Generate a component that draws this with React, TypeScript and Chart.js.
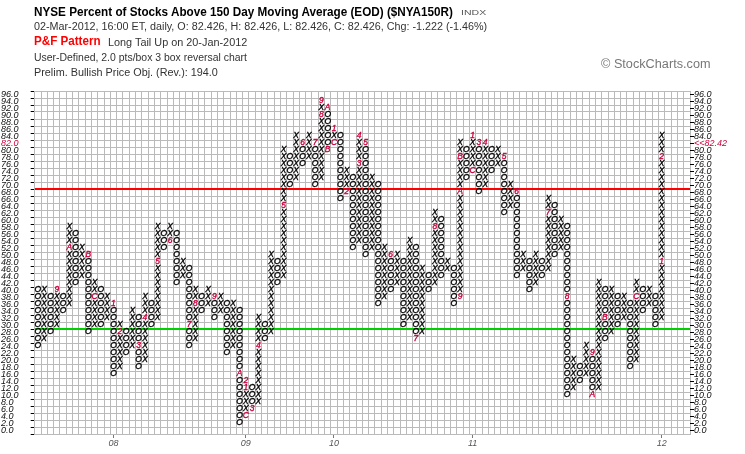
import { useEffect, useLayoutEffect, useRef, type CSSProperties, type ReactNode } from 'react'
import { Chart, registerables, type Plugin } from 'chart.js'

Chart.register(...registerables)

// P&F columns left to right: direction, lowest box and highest box (2.0 pts per box)
const colTypes = ('OXOXOXOXOX' + 'OXOXOXOXOX' + 'OXOXOXOXOX' + 'OXOXOXOXOX' + 'OXOXOXOXOX' +
  'OXOXOXOXOX' + 'OXOXOXOXOX' + 'OXOXOXOXOX' + 'OXOXOXOXOX' + 'OXOXOXOXOX').split('')

const colLows = [
  24, 26, 28, 30, 34, 36, 42, 44, 28, 30,
  30, 32, 16, 18, 22, 24, 18, 20, 30, 32,
  52, 54, 42, 44, 24, 26, 34, 36, 32, 34,
  22, 24, 2, 4, 6, 8, 26, 28, 42, 44,
  70, 72, 76, 78, 70, 72, 80, 82, 66, 68,
  52, 54, 50, 52, 36, 38, 40, 42, 30, 32,
  26, 28, 40, 42, 44, 46, 36, 38, 72, 74,
  68, 70, 74, 76, 62, 64, 44, 46, 40, 42,
  44, 46, 50, 52, 10, 12, 14, 16, 10, 12,
  26, 28, 30, 32, 18, 20, 34, 36, 30, 32,
]

const colHighs = [
  40, 40, 38, 40, 38, 58, 56, 52, 50, 42,
  40, 38, 36, 30, 28, 34, 32, 38, 36, 58,
  56, 58, 56, 48, 46, 40, 38, 40, 38, 38,
  36, 36, 34, 14, 12, 32, 30, 50, 48, 80,
  78, 84, 82, 84, 82, 94, 92, 86, 84, 74,
  72, 84, 82, 72, 70, 52, 50, 50, 48, 54,
  52, 46, 44, 62, 60, 48, 46, 82, 80, 84,
  82, 82, 80, 80, 78, 70, 68, 50, 48, 50,
  48, 66, 64, 60, 58, 20, 18, 24, 22, 42,
  40, 40, 38, 38, 36, 42, 40, 40, 38, 84,
]

// month markers that take the place of a box (1-9 = Jan-Sep, A-C = Oct-Dec)
const markCols = [
  3, 5, 8, 9, 12, 13, 16, 17, 19, 21,
  24, 25, 28, 32, 33, 33, 33, 34, 35, 39,
  42, 44, 45, 45, 46, 46, 47, 47, 49, 51,
  51, 52, 56, 60, 63, 67, 67, 67, 69, 69,
  70, 71, 74, 76, 81, 84, 88, 88, 90, 95,
  99, 99,
]
const markValues = [
  40, 52, 50, 38, 36, 28, 24, 32, 48, 54,
  30, 36, 38, 16, 4, 12, 14, 6, 24, 64,
  82, 82, 90, 94, 92, 80, 82, 86, 68, 76,
  84, 82, 50, 26, 58, 38, 68, 78, 74, 84,
  82, 82, 78, 68, 62, 38, 22, 10, 32, 38,
  48, 78,
]
const markCodes = [
  '9', 'A', 'B', 'C', '1', '2', '3', '4', '5', '6',
  '7', '8', '9', 'A', 'C', '1', '2', '3', '4', '5',
  '6', '7', '8', '9', 'A', 'B', 'C', '1', '2', '3',
  '4', '5', '6', '7', '8', '9', 'A', 'B', 'C', '1',
  '3', '4', '5', '6', '7', '8', '9', 'A', 'B', 'C',
  '1', '2',
]

const yearCols = [12, 33, 47, 69, 99]
const yearLabels = ['08', '09', '10', '11', '12']

const BOX = 2
const PRICE_TOP = 96
const GRID_COLS = 104
const lastClose = 82.42
const resistanceLevel = 69
const supportLevel = 29

const gridColor = '#bababa'
const markColor = '#c8003c'
const GLYPH_FONT = 'italic 8.5px "Liberation Sans", Arial, sans-serif'
const axisFont = { family: 'Liberation Sans', size: 9, style: 'italic' as const }

type Box = { x: number; y: number; code?: string }

function buildBoxes(kind: string): Box[] {
  const boxes: Box[] = []
  colTypes.forEach((type, col) => {
    if (type !== kind) return
    for (let v = colLows[col]; v <= colHighs[col]; v += BOX) {
      const marked = markCols.some((mc, i) => mc === col && markValues[i] === v)
      if (!marked) boxes.push({ x: col + 0.5, y: v })
    }
  })
  return boxes
}

const isOdd = (v: number) => Math.abs(v % 2) === 1

// draws the X / O / month glyph at each point the scatter datasets placed
const glyphPlugin: Plugin<'scatter'> = {
  id: 'pfGlyphs',
  afterDatasetsDraw(chart) {
    const { ctx } = chart
    ctx.save()
    ctx.textAlign = 'center'
    ctx.textBaseline = 'middle'
    ctx.font = GLYPH_FONT
    ctx.lineWidth = 0.35
    chart.data.datasets.forEach((ds, i) => {
      const glyph = (ds as any).glyph as string | undefined
      if (!glyph) return
      ctx.fillStyle = (ds as any).glyphColor
      ctx.strokeStyle = (ds as any).glyphColor
      chart.getDatasetMeta(i).data.forEach((el, j) => {
        const raw = ds.data[j] as unknown as Box
        const text = raw.code ?? glyph
        ctx.fillText(text, el.x, el.y - 0.5)
        ctx.strokeText(text, el.x, el.y - 0.5)
      })
    })
    ctx.restore()
  },
}

function PnfChart() {
  const canvasRef = useRef<HTMLCanvasElement | null>(null)

  useEffect(() => {
    const canvas = canvasRef.current
    if (!canvas) return

    const level = (y: number) => [{ x: 0, y }, { x: GRID_COLS, y }]
    const chart = new Chart(canvas, {
      type: 'scatter',
      data: {
        datasets: [
          { data: level(resistanceLevel), showLine: true, borderColor: '#ff0000', borderWidth: 2, pointRadius: 0 },
          { data: level(supportLevel), showLine: true, borderColor: '#00d000', borderWidth: 2, pointRadius: 0 },
          { data: buildBoxes('X'), pointRadius: 0, glyph: 'X', glyphColor: '#000' } as any,
          { data: buildBoxes('O'), pointRadius: 0, glyph: 'O', glyphColor: '#000' } as any,
          {
            data: markCols.map((c, i) => ({ x: c + 0.5, y: markValues[i], code: markCodes[i] })),
            pointRadius: 0,
            glyph: '?',
            glyphColor: markColor,
          } as any,
        ],
      },
      options: {
        animation: false,
        responsive: true,
        maintainAspectRatio: false,
        events: [],
        layout: { padding: { top: 91, left: 1, right: 0, bottom: 0 } },
        plugins: { legend: { display: false }, tooltip: { enabled: false } },
        scales: {
          x: {
            type: 'linear',
            min: 0,
            max: GRID_COLS,
            afterBuildTicks: (scale) => {
              const ticks: { value: number }[] = []
              for (let i = 0; i <= GRID_COLS; i++) ticks.push({ value: i })
              yearCols.forEach((c) => ticks.push({ value: c + 0.5 }))
              ticks.sort((a, b) => a.value - b.value)
              scale.ticks = ticks
            },
            afterFit: (scale) => {
              scale.height = 20
            },
            grid: {
              color: (ctx) => (Number.isInteger(ctx.tick?.value) ? gridColor : 'transparent'),
              tickColor: (ctx) => (Number.isInteger(ctx.tick?.value) ? 'transparent' : '#777'),
              tickLength: 4,
            },
            border: { color: gridColor },
            ticks: {
              autoSkip: false,
              maxRotation: 0,
              padding: 0,
              color: '#555',
              font: { family: 'Liberation Sans', size: 9, style: 'italic' },
              callback: (value) => {
                const i = yearCols.indexOf(Number(value) - 0.5)
                return i >= 0 ? yearLabels[i] : ''
              },
            },
          },
          y: {
            type: 'linear',
            position: 'left',
            min: -1,
            max: PRICE_TOP + 1,
            afterBuildTicks: (scale) => {
              const ticks: { value: number }[] = []
              for (let v = -1; v <= PRICE_TOP + 1; v++) ticks.push({ value: v })
              scale.ticks = ticks
            },
            afterFit: (scale) => {
              scale.width = 33.7
            },
            grid: {
              color: (ctx) => (isOdd(ctx.tick?.value ?? 0) ? gridColor : 'transparent'),
              tickColor: (ctx) => (isOdd(ctx.tick?.value ?? 0) ? '#000' : 'transparent'),
              tickLength: 4,
            },
            border: { color: gridColor },
            ticks: {
              autoSkip: false,
              crossAlign: 'far',
              padding: 0,
              color: (ctx) => (ctx.tick?.value === 82 ? markColor : '#111'),
              font: axisFont,
              callback: (value) => {
                const v = Number(value)
                return !isOdd(v) && v >= 0 && v <= PRICE_TOP ? v.toFixed(1) : ''
              },
            },
          },
          yR: {
            type: 'linear',
            position: 'right',
            min: -1,
            max: PRICE_TOP + 1,
            afterBuildTicks: (scale) => {
              const ticks: { value: number }[] = []
              for (let v = 0; v <= PRICE_TOP; v += BOX) ticks.push({ value: v })
              scale.ticks = ticks
            },
            afterFit: (scale) => {
              scale.width = 55
            },
            grid: { drawOnChartArea: false, tickColor: '#000', tickLength: 4 },
            border: { display: false },
            ticks: {
              autoSkip: false,
              padding: 0,
              color: (ctx) => (ctx.tick?.value === 82 ? markColor : '#111'),
              font: axisFont,
              callback: (value) => {
                const v = Number(value)
                return v === 82 ? `<<${lastClose.toFixed(2)}` : v.toFixed(1)
              },
            },
          },
        },
      },
      plugins: [glyphPlugin],
    })

    return () => {
      chart.destroy()
    }
  }, [])

  return <canvas ref={canvasRef} />
}

type FitTextProps = {
  x: number
  y: number
  width: number
  size: number
  style?: CSSProperties
  children: ReactNode
}

// header text squeezed or stretched to the width it has in the original
function FitText({ x, y, width, size, style, children }: FitTextProps) {
  const ref = useRef<HTMLSpanElement | null>(null)

  useLayoutEffect(() => {
    const el = ref.current
    if (!el) return
    el.style.transform = 'none'
    const natural = el.offsetWidth
    if (natural > 0) el.style.transform = `scaleX(${width / natural})`
  }, [width, children])

  return (
    <span
      ref={ref}
      style={{
        position: 'absolute',
        left: x,
        top: y - size / 2,
        fontSize: size,
        lineHeight: `${size}px`,
        whiteSpace: 'nowrap',
        transformOrigin: '0 50%',
        fontFamily: '"Liberation Sans", Arial, sans-serif',
        color: '#222',
        ...style,
      }}
    >
      {children}
    </span>
  )
}

export default function App() {
  return (
    <div style={{ position: 'absolute', left: 0, top: 0, width: 745, height: 454, background: '#fff', overflow: 'hidden' }}>
      <div style={{ position: 'absolute', inset: 0 }}>
        <PnfChart />
      </div>
      <FitText x={34} y={12} width={419} size={12.5} style={{ fontWeight: 'bold', color: '#000', fontFamily: '"Liberation Sans Narrow", "Liberation Sans", sans-serif' }}>
        NYSE Percent of Stocks Above 150 Day Moving Average (EOD) ($NYA150R)
      </FitText>
      <FitText x={461} y={12.5} width={25} size={8} style={{ color: '#555' }}>
        INDX
      </FitText>
      <FitText x={34} y={26.5} width={453} size={10} style={{ color: '#333' }}>
        02-Mar-2012, 16:00 ET, daily, O: 82.426, H: 82.426, L: 82.426, C: 82.426, Chg: -1.222 (-1.46%)
      </FitText>
      <FitText x={34} y={41.5} width={67} size={12.5} style={{ fontWeight: 'bold', color: '#ff0000', fontFamily: '"Liberation Sans Narrow", "Liberation Sans", sans-serif' }}>
        P&amp;F Pattern
      </FitText>
      <FitText x={108} y={42.5} width={139} size={10} style={{ color: '#333' }}>
        Long Tail Up on 20-Jan-2012
      </FitText>
      <FitText x={34} y={57.5} width={213} size={10} style={{ color: '#333' }}>
        User-Defined, 2.0 pts/box 3 box reversal chart
      </FitText>
      <FitText x={34} y={72.5} width={184} size={10} style={{ color: '#333' }}>
        Prelim. Bullish Price Obj. (Rev.): 194.0
      </FitText>
      <FitText x={601} y={64} width={110} size={12} style={{ color: '#777' }}>
        © StockCharts.com
      </FitText>
    </div>
  )
}
